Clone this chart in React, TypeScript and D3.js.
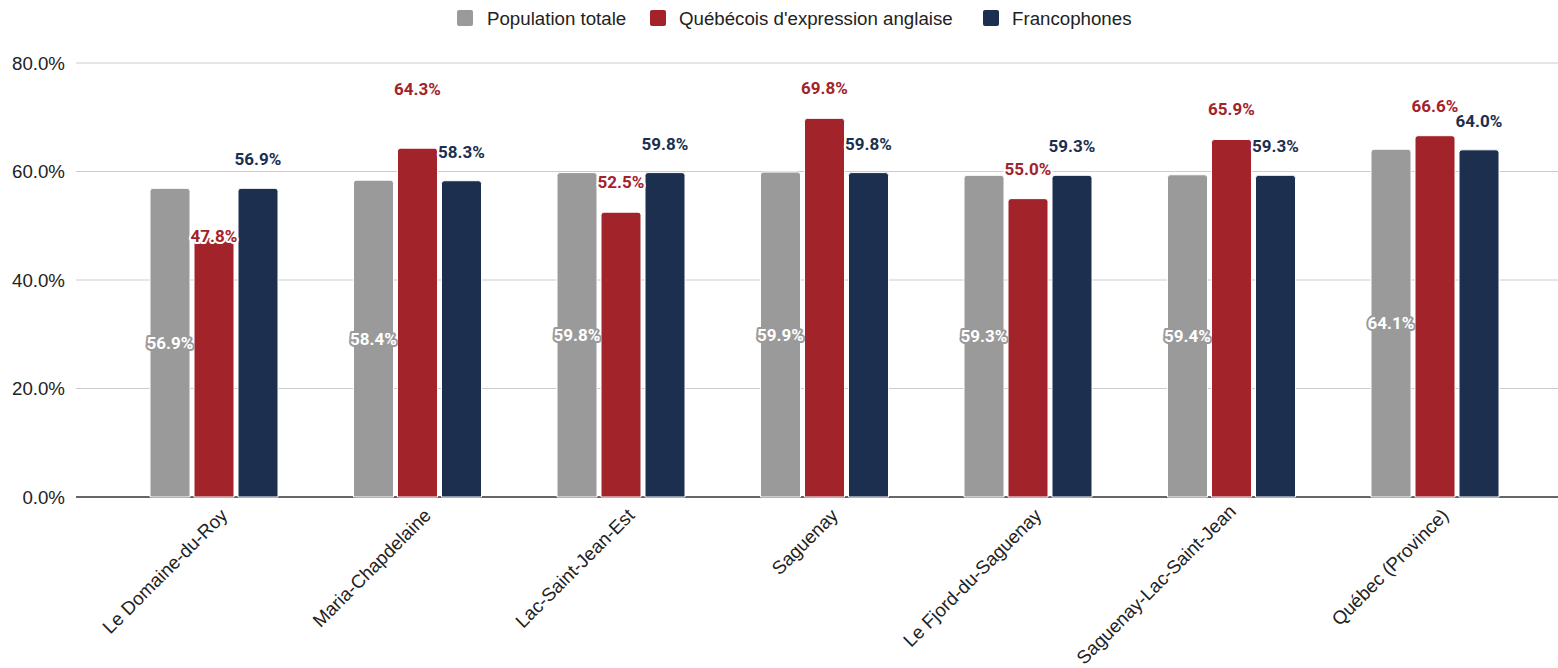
import React from "react";
import * as d3 from "d3";

const categories = [
  "Le Domaine-du-Roy",
  "Maria-Chapdelaine",
  "Lac-Saint-Jean-Est",
  "Saguenay",
  "Le Fjord-du-Saguenay",
  "Saguenay-Lac-Saint-Jean",
  "Québec (Province)",
];
const seriesNames = ["Population totale", "Québécois d'expression anglaise", "Francophones"];
const populationTotale = [56.9, 58.4, 59.8, 59.9, 59.3, 59.4, 64.1];
const anglophones = [47.8, 64.3, 52.5, 69.8, 55.0, 65.9, 66.6];
const francophones = [56.9, 58.3, 59.8, 59.8, 59.3, 59.3, 64.0];
const yTicks = [0, 20, 40, 60, 80];

// label placement nudges (layout, in px) where the original moved labels to avoid collisions / edges
const redLabelNudge = [28, -29, 0, 0, 0, 0, 0];
const xLabelNudge = [
  [0, 0],
  [0, 0],
  [0, 0],
  [0, 0],
  [0, 0],
  [-9, -4],
  [0, 0],
];

const colors = ["#9a9a9a", "#a3232a", "#1c2f4f"];
const W = 1558;
const H = 668;
const AXIS_FONT = 18.7;

export default function App() {
  const series = [populationTotale, anglophones, francophones];
  const y = d3.scaleLinear().domain([0, 80]).range([497, 63]);
  const x0 = d3.scaleBand<string>().domain(categories).range([112.25, 1536.75]).paddingInner(0).paddingOuter(0);
  const x1 = d3.scaleBand<string>().domain(seriesNames).range([-64, 64]).paddingInner(4 / 44).paddingOuter(0);
  const bw = x1.bandwidth();
  const fmt = (v: number) => v.toFixed(1) + "%";

  const barPath = (x: number, yTop: number, w: number, yBot: number) => {
    const r = Math.min(3, (yBot - yTop) / 2);
    return `M${x},${yBot}V${yTop + r}Q${x},${yTop} ${x + r},${yTop}H${x + w - r}Q${x + w},${yTop} ${x + w},${yTop + r}V${yBot}Z`;
  };

  const legendItems = [
    { name: seriesNames[0], sx: 457, tx: 487 },
    { name: seriesNames[1], sx: 650, tx: 679 },
    { name: seriesNames[2], sx: 983, tx: 1012 },
  ];

  return (
    <svg width={W} height={H} style={{ position: "absolute", left: 0, top: 0, background: "#fff" }}>
      <rect width={W} height={H} fill="#fff" />
      {/* legend */}
      <g fontFamily="'Liberation Sans', Arial, sans-serif" fontSize={AXIS_FONT} fill="#222">
        {legendItems.map((it, i) => (
          <g key={it.name}>
            <rect x={it.sx} y={10} width={16} height={16} rx={2} fill={colors[i]} />
            <text x={it.tx} y={18} dominantBaseline="central">{it.name}</text>
          </g>
        ))}
      </g>
      {/* grid */}
      <g>
        {yTicks.map((t) => (
          <g key={t}>
            <line x1={76} x2={1558} y1={y(t)} y2={y(t)} stroke={t === 0 ? "#333" : "#cccccc"} strokeWidth={t === 0 ? 1.3 : 1} />
            <text x={65} y={y(t)} textAnchor="end" dominantBaseline="central" fontFamily="'Liberation Sans', Arial, sans-serif" fontSize={AXIS_FONT} fill="#222">
              {fmt(t)}
            </text>
          </g>
        ))}
      </g>
      {/* bars */}
      {categories.map((c, ci) => (
        <g key={c} transform={`translate(${x0(c)! + x0.bandwidth() / 2},0)`}>
          {series.map((s, si) => (
            <path
              key={si}
              d={barPath(x1(seriesNames[si])!, y(s[ci]), bw, y(0))}
              fill={colors[si]}
              stroke="#fff"
              strokeWidth={1}
            />
          ))}
        </g>
      ))}
      {/* data labels */}
      <g fontFamily="Roboto, 'Noto Sans', sans-serif" fontSize={17} fontWeight="bold" textAnchor="middle">
        {categories.map((c, ci) => {
          const cx = x0(c)! + x0.bandwidth() / 2;
          const gx = cx + x1(seriesNames[0])! + bw / 2;
          const rx = cx + x1(seriesNames[1])! + bw / 2;
          const nx = cx + x1(seriesNames[2])! + bw / 2;
          return (
            <g key={c}>
              <text
                x={gx}
                y={(y(populationTotale[ci]) + y(0)) / 2}
                dominantBaseline="central"
                fill="#fff"
                stroke="#9a9a9a"
                strokeWidth={4}
                strokeLinejoin="round"
                paintOrder="stroke"
              >
                {fmt(populationTotale[ci])}
              </text>
              <text
                x={rx}
                y={y(anglophones[ci]) - 30 + redLabelNudge[ci]}
                dominantBaseline="central"
                fill={colors[1]}
                stroke="#fff"
                strokeWidth={4}
                strokeLinejoin="round"
                paintOrder="stroke"
              >
                {fmt(anglophones[ci])}
              </text>
              <text
                x={nx}
                y={y(francophones[ci]) - 29}
                dominantBaseline="central"
                fill={colors[2]}
                stroke="#fff"
                strokeWidth={4}
                strokeLinejoin="round"
                paintOrder="stroke"
              >
                {fmt(francophones[ci])}
              </text>
            </g>
          );
        })}
      </g>
      {/* x labels */}
      <g fontFamily="'Liberation Sans', Arial, sans-serif" fontSize={AXIS_FONT} fill="#222">
        {categories.map((c, ci) => {
          const cx = x0(c)! + x0.bandwidth() / 2 + 10 + xLabelNudge[ci][0];
          const cy = 512 + xLabelNudge[ci][1];
          return (
            <text key={c} transform={`translate(${cx},${cy}) rotate(-45)`} textAnchor="end" dominantBaseline="central">
              {c}
            </text>
          );
        })}
      </g>
    </svg>
  );
}
